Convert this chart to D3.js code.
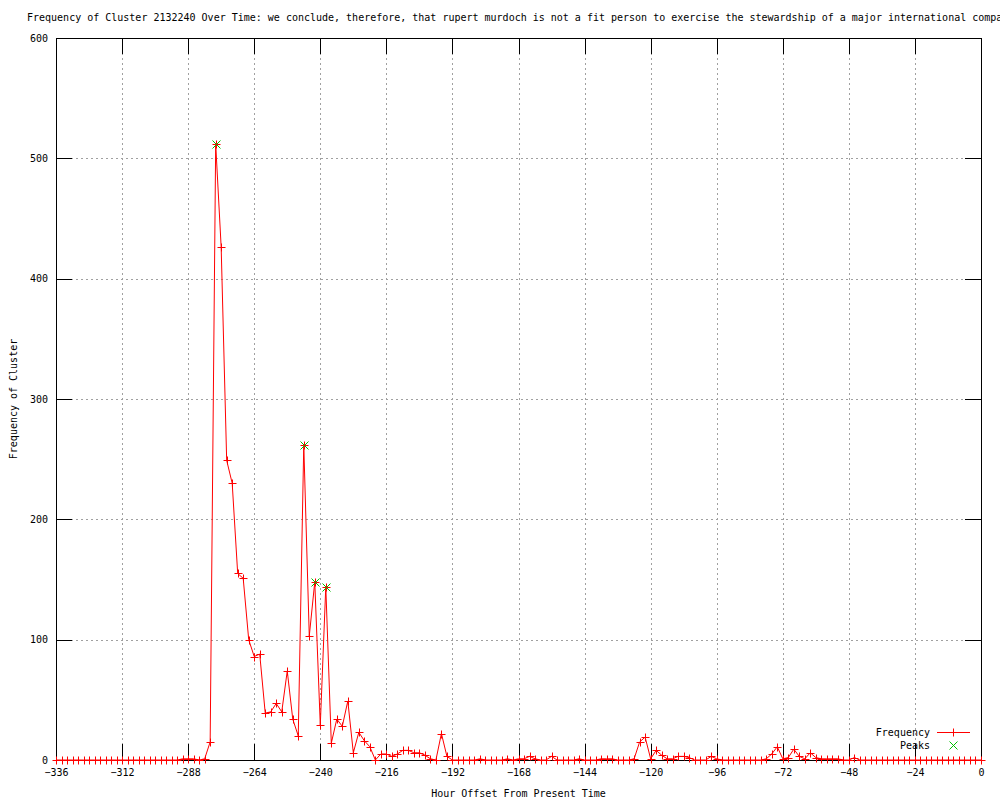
<!DOCTYPE html>
<html>
<head>
<meta charset="utf-8">
<script src="https://cdn.jsdelivr.net/npm/d3@7"></script>
<style>
  body { margin: 0; background: #fff; }
  text { font-family: "DejaVu Sans Mono", monospace; font-size: 10px; fill: #000; }
</style>
</head>
<body>
<div id="chart"></div>
<script>
// hour offsets (every 2 hours)
const hours = [
  -336,-334,-332,-330,-328,-326,-324,-322,-320,-318,-316,-314,
  -312,-310,-308,-306,-304,-302,-300,-298,-296,-294,-292,-290,
  -288,-286,-284,-282,-280,-278,-276,-274,-272,-270,-268,-266,
  -264,-262,-260,-258,-256,-254,-252,-250,-248,-246,-244,-242,
  -240,-238,-236,-234,-232,-230,-228,-226,-224,-222,-220,-218,
  -216,-214,-212,-210,-208,-206,-204,-202,-200,-198,-196,-194,
  -192,-190,-188,-186,-184,-182,-180,-178,-176,-174,-172,-170,
  -168,-166,-164,-162,-160,-158,-156,-154,-152,-150,-148,-146,
  -144,-142,-140,-138,-136,-134,-132,-130,-128,-126,-124,-122,
  -120,-118,-116,-114,-112,-110,-108,-106,-104,-102,-100,-98,
  -96,-94,-92,-90,-88,-86,-84,-82,-80,-78,-76,-74,
  -72,-70,-68,-66,-64,-62,-60,-58,-56,-54,-52,-50,
  -48,-46,-44,-42,-40,-38,-36,-34,-32,-30,-28,-26,
  -24,-22,-20,-18,-16,-14,-12,-10,-8,-6,-4,-2,
  0
];
const frequency = [
  0,0,0,0,0,0,0,0,0,0,0,0,
  0,0,0,0,0,0,0,0,0,0,0,1,
  1,1,0,1,15,512,426,249,230,155,151,100,
  86,88,39,40,47,40,74,34,20,262,103,148,
  29,144,14,34,28,49,6,23,16,11,0,5,
  5,3,5,8,8,6,6,4,1,0,22,3,
  0,0,0,0,0,1,0,0,0,0,1,0,
  1,1,3,1,0,0,3,0,0,0,0,1,
  0,0,0,1,1,1,0,0,0,1,15,19,
  1,8,4,1,1,3,3,2,0,0,0,3,
  1,0,0,0,0,0,0,0,0,1,5,11,
  1,2,9,3,1,6,2,1,1,1,1,0,
  0,2,0,0,0,0,0,0,0,0,0,0,
  0,0,0,0,0,0,0,0,0,0,0,0,
  0
];
const peakHours = [-278, -246, -242, -238];
const peakValues = [512, 262, 148, 144];

const xTicks = [-336,-312,-288,-264,-240,-216,-192,-168,-144,-120,-96,-72,-48,-24,0];
const yTicks = [0,100,200,300,400,500,600];

const title = "Frequency of Cluster 2132240 Over Time: we conclude, therefore, that rupert murdoch is not a fit person to exercise the stewardship of a major international company";

const width = 1000, height = 800;
const margin = { top: 38, right: 19, bottom: 40, left: 56 };
const plotW = width - margin.left - margin.right;
const plotH = height - margin.top - margin.bottom;

const data = hours.map((h, i) => ({ h: h, v: frequency[i] }));
const peaks = peakHours.map((h, i) => ({ h: h, v: peakValues[i] }));

const svg = d3.select("#chart").append("svg")
    .attr("width", width)
    .attr("height", height);

const x = d3.scaleLinear().domain([-336, 0]).range([margin.left, margin.left + plotW]);
const y = d3.scaleLinear().domain([0, 600]).range([margin.top + plotH, margin.top]);

const crisp = v => Math.round(v) + 0.5;
const tickLen = 16;

// grid
const grid = svg.append("g").attr("stroke", "#a0a0a0").attr("stroke-dasharray", "2,3");
grid.selectAll(".gx").data(xTicks.slice(1, -1)).enter().append("line")
    .attr("x1", d => crisp(x(d))).attr("x2", d => crisp(x(d)))
    .attr("y1", margin.top).attr("y2", margin.top + plotH);
grid.selectAll(".gy").data(yTicks.slice(1, -1)).enter().append("line")
    .attr("y1", d => crisp(y(d))).attr("y2", d => crisp(y(d)))
    .attr("x1", margin.left).attr("x2", margin.left + plotW);

// ticks, all four sides, pointing in
const ticks = svg.append("g").attr("stroke", "#000");
xTicks.forEach(t => {
    ticks.append("line").attr("x1", crisp(x(t))).attr("x2", crisp(x(t)))
        .attr("y1", margin.top + plotH).attr("y2", margin.top + plotH - tickLen);
    ticks.append("line").attr("x1", crisp(x(t))).attr("x2", crisp(x(t)))
        .attr("y1", margin.top).attr("y2", margin.top + tickLen);
});
yTicks.forEach(t => {
    ticks.append("line").attr("y1", crisp(y(t))).attr("y2", crisp(y(t)))
        .attr("x1", margin.left).attr("x2", margin.left + tickLen);
    ticks.append("line").attr("y1", crisp(y(t))).attr("y2", crisp(y(t)))
        .attr("x1", margin.left + plotW).attr("x2", margin.left + plotW - tickLen);
});

// frame
svg.append("rect")
    .attr("x", crisp(margin.left)).attr("y", crisp(margin.top))
    .attr("width", Math.round(plotW)).attr("height", Math.round(plotH))
    .attr("fill", "none").attr("stroke", "#000");

// tick labels via d3 axes (no tick lines)
svg.append("g")
    .attr("transform", `translate(0,${margin.top + plotH})`)
    .call(d3.axisBottom(x).tickValues(xTicks).tickSize(0).tickPadding(9))
    .call(g => g.select(".domain").remove())
    .selectAll("text").style("font-family", "DejaVu Sans Mono, monospace").style("font-size", "10px");

svg.append("g")
    .attr("transform", `translate(${margin.left},0)`)
    .call(d3.axisLeft(y).tickValues(yTicks).tickSize(0).tickPadding(8))
    .call(g => g.select(".domain").remove())
    .selectAll("text").style("font-family", "DejaVu Sans Mono, monospace").style("font-size", "10px");

// title and axis titles
svg.append("text").attr("x", 27).attr("y", 21).text(title);
svg.append("text").attr("x", (margin.left + margin.left + plotW) / 2).attr("y", 797)
    .attr("text-anchor", "middle").text("Hour Offset From Present Time");
svg.append("text").attr("transform", "translate(17,399) rotate(-90)")
    .attr("text-anchor", "middle").text("Frequency of Cluster");

const xMark = (g, cx, cy, r, color) => {
    g.append("path")
        .attr("d", `M${cx - r},${cy - r}L${cx + r},${cy + r}M${cx - r},${cy + r}L${cx + r},${cy - r}`)
        .attr("stroke", color).attr("fill", "none");
};
const plusMark = (g, cx, cy, r, color) => {
    g.append("path")
        .attr("d", `M${cx - r},${cy}L${cx + r},${cy}M${cx},${cy - r}L${cx},${cy + r}`)
        .attr("stroke", color).attr("fill", "none");
};

// frequency line
svg.append("path")
    .datum(data)
    .attr("fill", "none")
    .attr("stroke", "#ff0000")
    .attr("stroke-width", 1)
    .attr("d", d3.line().x(d => x(d.h)).y(d => y(d.v)));

const freqG = svg.append("g");
data.forEach(d => plusMark(freqG, Math.round(x(d.h)) + 0.5, Math.round(y(d.v)) + 0.5, 4, "#ff0000"));

// peaks (green crosses)
const peakG = svg.append("g");
peaks.forEach(d => xMark(peakG, Math.round(x(d.h)) + 0.5, Math.round(y(d.v)) + 0.5, 4, "#00c000"));

// legend
const lg = svg.append("g");
lg.append("text").attr("x", 930).attr("y", 736).attr("text-anchor", "end").text("Frequency");
lg.append("line").attr("x1", 937).attr("x2", 970).attr("y1", 732.5).attr("y2", 732.5).attr("stroke", "#ff0000");
plusMark(lg, 953.5, 732.5, 4, "#ff0000");
lg.append("text").attr("x", 930).attr("y", 749).attr("text-anchor", "end").text("Peaks");
xMark(lg, 953.5, 745.5, 4, "#00c000");
</script>
</body>
</html>
